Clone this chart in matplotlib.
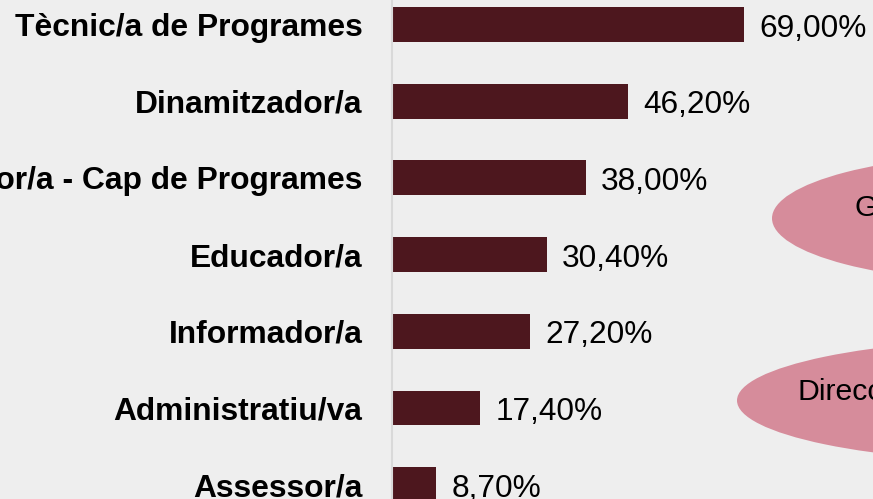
import matplotlib
matplotlib.use("Agg")
import matplotlib.pyplot as plt
from matplotlib.patches import Ellipse

plt.rcParams['font.family'] = ['Liberation Sans', 'DejaVu Sans']

# data
categories = ["Tècnic/a de Programes", "Dinamitzador/a",
              "Coordinador/a - Cap de Programes", "Educador/a",
              "Informador/a", "Administratiu/va", "Assessor/a"]
values = [69.0, 46.2, 38.0, 30.4, 27.2, 17.4, 8.7]
bubble_labels = ["Gestió", "Direcció"]

bg = "#eeeeee"
bar_col = "#4d171e"
pink = "#d68c9b"

W, H = 873, 499
fig = plt.figure(figsize=(W / 100, H / 100), dpi=100, facecolor=bg)

# axes placed in pixels so the chart is cropped like the original
left_px, top_px = 391.5, -13.85
px_per_unit = 5.11
row_px = 76.7
ax = fig.add_axes([left_px / W, 1 - (top_px + 7 * row_px) / H,
                   100 * px_per_unit / W, 7 * row_px / H])
ax.set_facecolor(bg)

ypos = list(range(len(categories)))
bars = ax.barh(ypos, values, height=0.456, color=bar_col)
ax.set_xlim(0, 100)
ax.set_ylim(6.5, -0.5)

# value labels, e.g. 69,00%
for i, v in enumerate(values):
    lbl = ("%.2f" % v).replace(".", ",") + "%"
    ax.annotate(lbl, xy=(v, i), xytext=(11, -3), textcoords="offset points",
                fontsize=22.8, ha="left", va="center")

ax.set_yticks(ypos)
ax.set_yticklabels(categories, fontsize=22.9, fontweight="bold")
ax.tick_params(axis="y", length=0, pad=21)
ax.set_xticks([])

for s in ["top", "right", "bottom"]:
    ax.spines[s].set_visible(False)
ax.spines["left"].set_color("#d9d9d9")
ax.spines["left"].set_linewidth(1.5)

# pink bubbles on the right, mostly cut off
bubbles = [(1022, 218.3, 250, 65), (1037, 400.5, 300, 62)]
text_pos = [(855, 208), (797, 392)]
for (cx, cy, a, b), (tx, ty), txt in zip(bubbles, text_pos, bubble_labels):
    e = Ellipse((cx / W, 1 - cy / H), 2 * a / W, 2 * b / H,
                transform=fig.transFigure, facecolor=pink, edgecolor="none")
    fig.add_artist(e)
    fig.text(tx / W, 1 - ty / H, txt, fontsize=21.8, ha="left", va="center")

fig.savefig("out.png", dpi=100, facecolor=bg)
